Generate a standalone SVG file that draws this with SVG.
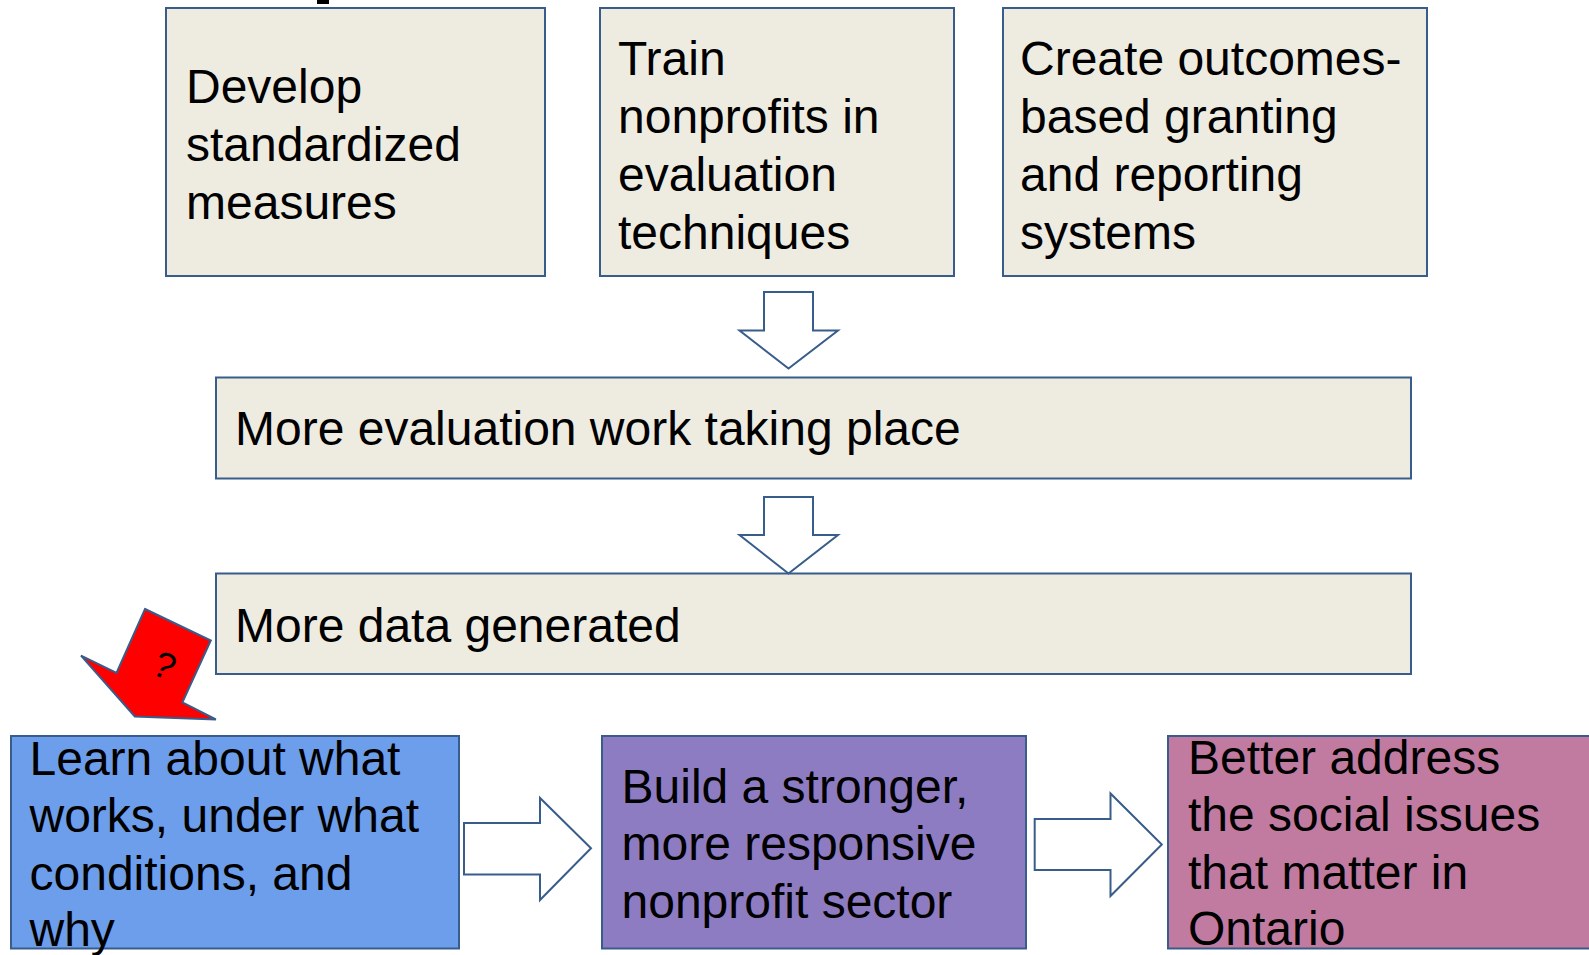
<svg xmlns="http://www.w3.org/2000/svg" width="1589" height="955" viewBox="0 0 1589 955">
<style>
.box{stroke:#385D8A;stroke-width:2}
.beige{fill:#EEECE1}
.blue{fill:#6D9EEB}
.purple{fill:#8E7CC3}
.pink{fill:#C27BA0}
.t{font-family:"Liberation Sans",Arial,sans-serif;font-size:48px;fill:#000}
.arr{fill:#fff;stroke:#385D8A;stroke-width:2;stroke-linejoin:miter}
</style>
<rect x="0" y="0" width="1589" height="955" fill="#fff"/>
<rect x="317" y="0" width="12" height="4" fill="#000"/>
<g id="n1">
<rect class="box beige" x="166" y="8" width="379" height="268"/>
<text class="t" x="186"><tspan x="186" y="102.5">Develop</tspan><tspan x="186" y="160.5">standardized</tspan><tspan x="186" y="218.5">measures</tspan></text>
</g>
<g id="n2">
<rect class="box beige" x="600" y="8" width="354" height="268"/>
<text class="t"><tspan x="618" y="75">Train</tspan><tspan x="618" y="133">nonprofits in</tspan><tspan x="618" y="191">evaluation</tspan><tspan x="618" y="249">techniques</tspan></text>
</g>
<g id="n3">
<rect class="box beige" x="1003" y="8" width="424" height="268"/>
<text class="t"><tspan x="1020" y="75">Create outcomes-</tspan><tspan x="1020" y="133">based granting</tspan><tspan x="1020" y="191">and reporting</tspan><tspan x="1020" y="249">systems</tspan></text>
</g>
<g id="n4">
<rect class="box beige" x="216" y="377.5" width="1195" height="101"/>
<text class="t" x="235" y="445">More evaluation work taking place</text>
</g>
<g id="n5">
<rect class="box beige" x="216" y="573.5" width="1195" height="100.5"/>
<text class="t" x="235" y="641.5">More data generated</text>
</g>
<g id="n6">
<rect class="box blue" x="11" y="736" width="448" height="212.5"/>
<text class="t"><tspan x="29.5" y="774.5">Learn about what</tspan><tspan x="29.5" y="832">works, under what</tspan><tspan x="29.5" y="889.5">conditions, and</tspan><tspan x="29.5" y="946">why</tspan></text>
</g>
<g id="n7">
<rect class="box purple" x="602" y="736" width="424" height="212.5"/>
<text class="t"><tspan x="621.5" y="802.5">Build a stronger,</tspan><tspan x="621.5" y="860">more responsive</tspan><tspan x="621.5" y="917.5">nonprofit sector</tspan></text>
</g>
<g id="n8">
<rect class="box pink" x="1168" y="736" width="430" height="212.5"/>
<text class="t"><tspan x="1188" y="773.5">Better address</tspan><tspan x="1188" y="831">the social issues</tspan><tspan x="1188" y="888.5">that matter in</tspan><tspan x="1188" y="945">Ontario</tspan></text>
</g>
<g id="connectors">
<polygon class="arr" points="764,292 813,292 813,330.5 838,330.5 788.5,368.5 739.5,330.5 764,330.5"/>
<polygon class="arr" points="764,497 813,497 813,535 838,535 788.5,573.5 739.5,535 764,535"/>
<polygon class="arr" points="464,823 540,823 540,798 591,848.2 540,900 540,874.5 464,874.5"/>
<polygon class="arr" points="1034.7,819 1110.5,819 1110.5,793.5 1161.8,844.5 1110.5,896 1110.5,870 1034.7,870"/>
<g id="question-arrow">
<polygon points="145,609 210.8,640.5 182.4,702.3 215.9,719.5 134.8,716.5 81,655.7 116.5,673" fill="#FF0000" stroke="#385D8A" stroke-width="2" stroke-linejoin="miter"/>
<text x="0" y="0" transform="translate(159,677) rotate(25)" font-family="Liberation Sans, Arial, sans-serif" font-size="37" text-anchor="middle" fill="#000">?</text>
</g>
</g>
</svg>
